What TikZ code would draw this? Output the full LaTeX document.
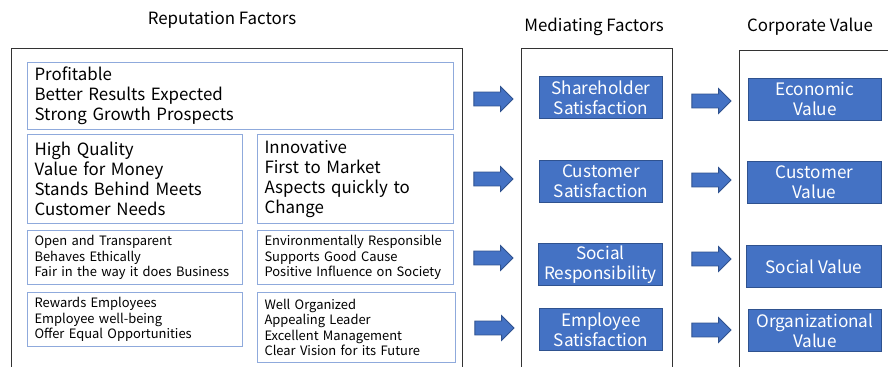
\documentclass[tikz,border=0pt]{standalone}
\usepackage{fontspec}
\setmainfont{Noto Sans CJK JP}
\usetikzlibrary{shapes.arrows}

\definecolor{bluefill}{HTML}{4472C4}
\definecolor{blueline}{HTML}{2F528F}
\definecolor{paleline}{HTML}{8FAADC}
\definecolor{frameline}{HTML}{333333}

\begin{document}
\begin{tikzpicture}[
    x=0.025cm, y=-0.025cm,
    title/.style={
        font=\fontsize{12}{14}\selectfont
    },
    frame/.style={
        draw=frameline,
        line width=0.7pt
    },
    factor/.style={
        draw=paleline,
        line width=0.7pt,
        anchor=north west,
        inner xsep=5pt,
        inner ysep=0pt,
        align=left
    },
    bigtext/.style={
        font=\fontsize{12}{14.2}\selectfont
    },
    smalltext/.style={
        font=\fontsize{9.2}{11}\selectfont
    },
    result/.style={
        draw=blueline,
        fill=bluefill,
        line width=0.6pt,
        text=white,
        anchor=north west,
        inner sep=0pt,
        align=center,
        minimum height=1.05cm,
        font=\fontsize{12.2}{14.2}\selectfont
    },
    blockarrow/.style={
        single arrow,
        draw=blueline,
        fill=bluefill,
        line width=0.6pt,
        inner xsep=0pt,
        inner ysep=0.1625cm,
        minimum height=0.98cm,
        single arrow head extend=0.1375cm
    }
]

\useasboundingbox (0,0) rectangle (888,367);
\clip (0,0) rectangle (888,367);

% column titles
\node[title] (trep) at (222,20) {Reputation Factors};
\node[title] (tmed) at (594,27) {Mediating Factors};
\node[title] (tcorp) at (810,27) {Corporate Value};

% column frames (open at the bottom)
\node[frame, anchor=north west, minimum width=11.275cm, minimum height=8.5cm] (frep) at (11,48) {};
\node[frame, anchor=north west, minimum width=3.775cm, minimum height=8.5cm] (fmed) at (521,48) {};
\node[frame, anchor=north west, minimum width=4cm, minimum height=8.5cm] (fcorp) at (739,50) {};

% reputation factors
\node[factor, bigtext, text width=10.3cm, minimum height=1.675cm] (profit) at (27,62)
    {Profitable\\Better Results Expected\\Strong Growth Prospects};
\node[factor, bigtext, text width=5.025cm, minimum height=2.225cm] (quality) at (27,134)
    {High Quality\\Value for Money\\Stands Behind Meets\\Customer Needs};
\node[factor, bigtext, text width=4.55cm, minimum height=2.225cm] (innov) at (257,134)
    {Innovative\\First to Market\\Aspects quickly to\\Change};
\node[factor, smalltext, text width=5.025cm, minimum height=1.35cm] (ethics) at (27,230)
    {Open and Transparent\\Behaves Ethically\\Fair in the way it does Business};
\node[factor, smalltext, text width=4.55cm, minimum height=1.35cm] (environ) at (257,230)
    {Environmentally Responsible\\Supports Good Cause\\Positive Influence on Society};
\node[factor, smalltext, text width=5.025cm, minimum height=1.35cm] (workers) at (27,292)
    {Rewards Employees\\Employee well-being\\Offer Equal Opportunities};
\node[factor, smalltext, text width=4.6cm, minimum height=1.75cm] (leader) at (257,292)
    {Well Organized\\Appealing Leader\\Excellent Management\\Clear Vision for its Future};

% mediating factors
\node[result, minimum width=3.075cm] (share) at (539,76) {Shareholder\\Satisfaction};
\node[result, minimum width=3.075cm] (custsat) at (539,160) {Customer\\Satisfaction};
\node[result, minimum width=3.1cm] (social) at (538,243) {Social\\Responsibility};
\node[result, minimum width=3.075cm] (empsat) at (539,308) {Employee\\Satisfaction};

% corporate value
\node[result, minimum width=3.325cm] (econ) at (748,78) {Economic\\Value};
\node[result, minimum width=3.35cm] (custval) at (747,161) {Customer\\Value};
\node[result, minimum width=3.375cm] (socval) at (746,245) {Social Value};
\node[result, minimum width=3.325cm] (orgval) at (748,309) {Organizational\\Value};

% block arrows between the columns
\node[blockarrow] (a1) at (490,99) {};
\node[blockarrow] (a2) at (490,179) {};
\node[blockarrow] (a3) at (490,258) {};
\node[blockarrow] (a4) at (491,328) {};

\node[blockarrow] (b1) at (708,101) {};
\node[blockarrow] (b2) at (708,180) {};
\node[blockarrow] (b3) at (708,259) {};
\node[blockarrow] (b4) at (708,330) {};

\end{tikzpicture}
\end{document}
